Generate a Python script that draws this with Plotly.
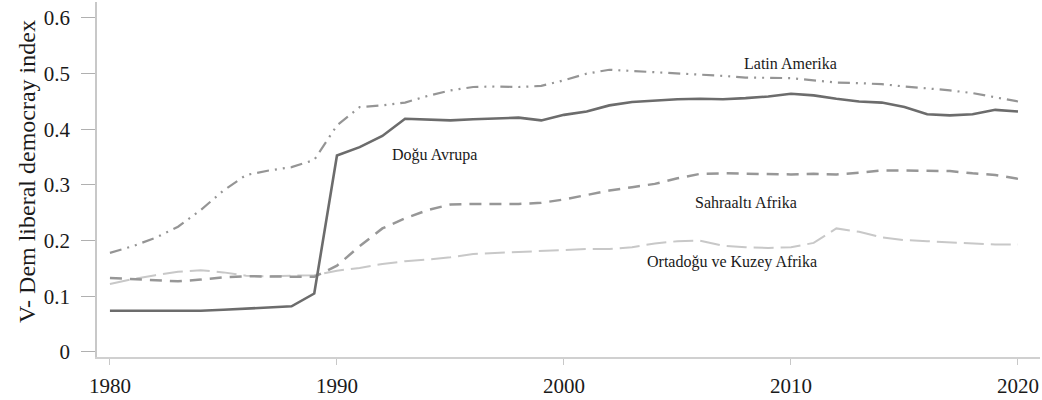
import plotly.graph_objects as go

years = list(range(1980, 2021))

dogu_avrupa = [0.074, 0.074, 0.073, 0.073, 0.074, 0.076, 0.078, 0.080, 0.082, 0.105,
               0.353, 0.368, 0.388, 0.419, 0.418, 0.416, 0.418, 0.420, 0.421, 0.416,
               0.426, 0.432, 0.443, 0.449, 0.452, 0.454, 0.455, 0.454, 0.456, 0.459,
               0.464, 0.461, 0.455, 0.450, 0.448, 0.440, 0.427, 0.425, 0.427, 0.435,
               0.432]

latin_amerika = [0.178, 0.190, 0.205, 0.225, 0.255, 0.290, 0.318, 0.326, 0.332, 0.345,
                 0.407, 0.440, 0.443, 0.448, 0.460, 0.470, 0.476, 0.477, 0.476, 0.478,
                 0.488, 0.500, 0.507, 0.505, 0.502, 0.501, 0.499, 0.496, 0.493, 0.493,
                 0.492, 0.488, 0.484, 0.483, 0.481, 0.477, 0.474, 0.470, 0.465, 0.458,
                 0.450]

sahraalti_afrika = [0.133, 0.131, 0.128, 0.127, 0.130, 0.134, 0.136, 0.136, 0.136, 0.135,
                    0.155, 0.190, 0.222, 0.240, 0.255, 0.265, 0.266, 0.266, 0.266, 0.268,
                    0.274, 0.282, 0.290, 0.296, 0.302, 0.312, 0.320, 0.321, 0.320, 0.319,
                    0.319, 0.320, 0.319, 0.322, 0.326, 0.326, 0.326, 0.325, 0.321, 0.318,
                    0.311]

ortadogu_kuzey_afrika = [0.122, 0.131, 0.138, 0.144, 0.147, 0.143, 0.137, 0.136, 0.137, 0.138,
                         0.146, 0.151, 0.158, 0.163, 0.166, 0.170, 0.176, 0.178, 0.180, 0.182,
                         0.184, 0.185, 0.185, 0.188, 0.195, 0.199, 0.200, 0.191, 0.188, 0.187,
                         0.188, 0.196, 0.222, 0.216, 0.206, 0.201, 0.199, 0.197, 0.194, 0.193,
                         0.193]

series_names = ["Doğu Avrupa", "Latin Amerika", "Sahraaltı Afrika", "Ortadoğu ve Kuzey Afrika"]
label_x = [1994.3, 2010.0, 2008.0, 2007.4]
label_y = [0.354, 0.519, 0.269, 0.162]

y_ticks = [0, 0.1, 0.2, 0.3, 0.4, 0.5, 0.6]
y_tick_text = ["0", "0.1", "0.2", "0.3", "0.4", "0.5", "0.6"]
x_ticks = [1980, 1990, 2000, 2010, 2020]

FONT = "Liberation Serif"

fig = go.Figure()
fig.add_trace(go.Scatter(x=years, y=ortadogu_kuzey_afrika, mode="lines", name=series_names[3],
                         line=dict(color="#c8c8c8", width=2, dash="20px,7px")))
fig.add_trace(go.Scatter(x=years, y=sahraalti_afrika, mode="lines", name=series_names[2],
                         line=dict(color="#979797", width=2.5, dash="12px,8px")))
fig.add_trace(go.Scatter(x=years, y=latin_amerika, mode="lines", name=series_names[1],
                         line=dict(color="#959595", width=2.2, dash="12px,6px,2px,6px,2px,6px")))
fig.add_trace(go.Scatter(x=years, y=dogu_avrupa, mode="lines", name=series_names[0],
                         line=dict(color="#6c6c6c", width=2.6)))

for name, lx, ly in zip(series_names, label_x, label_y):
    fig.add_annotation(x=lx, y=ly, text=name, showarrow=False,
                       font=dict(family=FONT, size=16, color="#1a1a1a"),
                       xanchor="center", yanchor="middle")

fig.add_annotation(xref="paper", yref="paper", x=-0.0742, y=0.521,
                   text="V- Dem liberal democray index", textangle=-90, showarrow=False,
                   font=dict(family=FONT, size=24, color="#1a1a1a"),
                   xanchor="center", yanchor="middle")

fig.update_layout(
    width=1042, height=400,
    margin=dict(l=97, r=2, t=2, b=43),
    paper_bgcolor="white", plot_bgcolor="white",
    showlegend=False,
    font=dict(family=FONT, color="#1a1a1a"),
    xaxis=dict(range=[1979.43, 2020.97], tickvals=x_ticks, ticktext=[str(v) for v in x_ticks],
               showgrid=False, zeroline=False, showline=True, linecolor="#d0d0d0", linewidth=1.5,
               ticks="outside", ticklen=6, tickcolor="#c8c8c8", tickwidth=1,
               ticklabeloverflow="allow", ticklabelstandoff=3, automargin=False,
               tickfont=dict(family=FONT, size=21, color="#1a1a1a")),
    yaxis=dict(range=[-0.009, 0.6287], tickvals=y_ticks, ticktext=y_tick_text,
               showgrid=False, zeroline=False, showline=True, linecolor="#c8c8c8", linewidth=1.5,
               ticks="outside", ticklen=14, tickcolor="#b0b0b0", tickwidth=1,
               ticklabeloverflow="allow", ticklabelstandoff=7, automargin=False,
               tickfont=dict(family=FONT, size=21, color="#1a1a1a")),
)

fig.write_html("out.html", config={"displayModeBar": False},
               post_script="document.body.style.margin='0';document.body.style.overflow='hidden';")
